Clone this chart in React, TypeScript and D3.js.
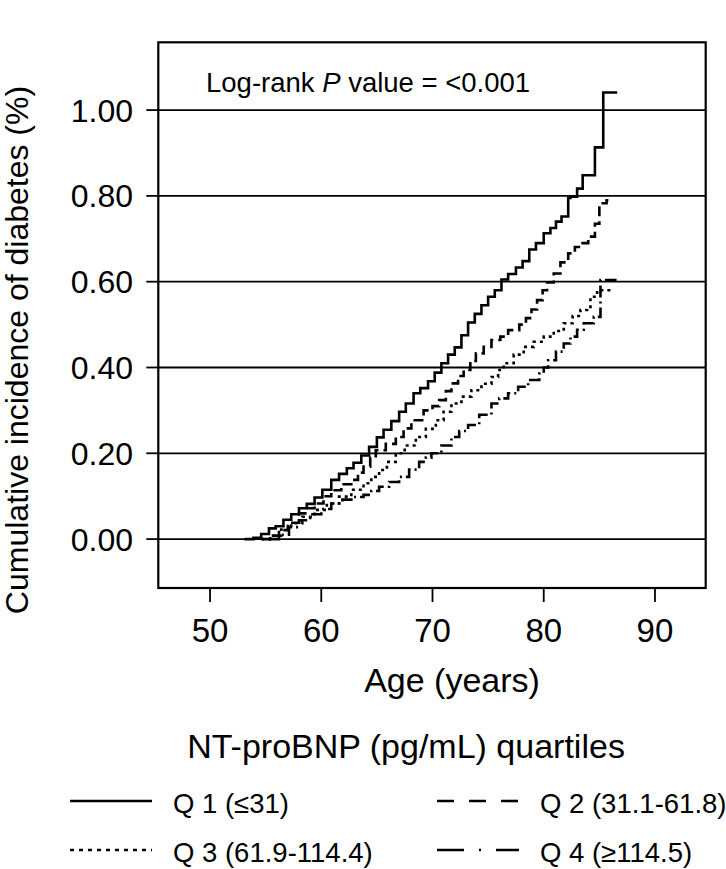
import React from "react";
import * as d3 from "d3";

const yTicks = [0, 0.2, 0.4, 0.6, 0.8, 1.0];
const xTicks = [50, 60, 70, 80, 90];

const q1Age = [53.1, 53.9, 54.6, 55.3, 55.9, 56.6, 57.3, 58.0, 58.7, 59.4, 60.1, 60.9, 61.6, 62.3, 62.9, 63.6, 64.3, 65.0, 65.6, 66.3, 67.0, 67.6, 68.3, 68.9, 69.6, 70.2, 70.8, 71.4, 72.0, 72.6, 73.2, 73.8, 74.4, 75.0, 75.6, 76.2, 76.8, 77.5, 78.1, 78.7, 79.3, 80.0, 80.6, 81.1, 81.6, 82.2, 82.4, 83.0, 83.5, 84.6, 85.35, 86.6];
const q1Val = [0, 0.003, 0.012, 0.025, 0.03, 0.045, 0.058, 0.072, 0.082, 0.097, 0.115, 0.138, 0.152, 0.165, 0.178, 0.195, 0.215, 0.237, 0.255, 0.275, 0.297, 0.316, 0.34, 0.352, 0.368, 0.388, 0.41, 0.43, 0.447, 0.475, 0.505, 0.525, 0.545, 0.565, 0.58, 0.605, 0.618, 0.633, 0.648, 0.675, 0.69, 0.713, 0.725, 0.74, 0.752, 0.795, 0.798, 0.817, 0.848, 0.913, 1.041, 1.041];

const q2Age = [54.7, 55.4, 56.2, 57.0, 58.0, 58.7, 59.4, 60.2, 60.9, 61.8, 62.7, 63.3, 63.8, 64.4, 64.9, 65.8, 66.7, 67.4, 68.1, 69.2, 70.0, 70.6, 71.2, 71.7, 72.3, 72.8, 73.4, 73.9, 74.6, 75.3, 76.1, 76.8, 77.8, 78.4, 78.9, 79.4, 79.9, 80.3, 80.9, 81.5, 82.2, 82.8, 83.3, 84.0, 84.6, 85.0, 85.65, 86.2];
const q2Val = [0, 0.008, 0.021, 0.038, 0.06, 0.072, 0.083, 0.1, 0.114, 0.128, 0.138, 0.155, 0.169, 0.19, 0.207, 0.222, 0.238, 0.258, 0.277, 0.3, 0.31, 0.324, 0.345, 0.363, 0.38, 0.394, 0.415, 0.433, 0.448, 0.464, 0.472, 0.487, 0.5, 0.515, 0.535, 0.557, 0.58, 0.598, 0.619, 0.645, 0.666, 0.681, 0.69, 0.705, 0.735, 0.783, 0.79, 0.79];

const q3Age = [54.6, 55.5, 56.4, 57.3, 58.3, 59.4, 60.5, 61.6, 62.7, 63.8, 64.5, 65.2, 65.9, 66.7, 67.5, 68.5, 69.4, 70.3, 71.0, 71.7, 72.6, 73.5, 74.4, 75.3, 75.9, 76.4, 77.3, 78.2, 79.1, 80.0, 80.9, 81.8, 82.6, 83.3, 83.9, 84.2, 84.8, 86.0];
const q3Val = [0, 0.008, 0.022, 0.037, 0.052, 0.068, 0.083, 0.099, 0.115, 0.13, 0.145, 0.161, 0.18, 0.2, 0.218, 0.238, 0.257, 0.277, 0.297, 0.316, 0.332, 0.347, 0.362, 0.378, 0.394, 0.41, 0.43, 0.448, 0.46, 0.472, 0.485, 0.503, 0.52, 0.534, 0.541, 0.565, 0.58, 0.58];

const q4Age = [55.4, 56.2, 57.1, 58.0, 59.0, 60.0, 60.9, 61.9, 62.9, 63.8, 64.5, 65.2, 66.1, 67.0, 67.9, 68.8, 69.4, 69.9, 70.8, 71.7, 72.4, 73.2, 74.2, 75.3, 76.0, 76.8, 77.7, 78.6, 79.6, 80.0, 80.4, 81.1, 81.8, 82.4, 83.0, 83.6, 84.5, 85.1, 86.55];
const q4Val = [0, 0.01, 0.028, 0.044, 0.058, 0.07, 0.083, 0.092, 0.098, 0.103, 0.112, 0.122, 0.133, 0.145, 0.162, 0.18, 0.19, 0.2, 0.218, 0.238, 0.252, 0.266, 0.29, 0.316, 0.328, 0.34, 0.355, 0.371, 0.386, 0.4, 0.417, 0.437, 0.456, 0.472, 0.488, 0.503, 0.518, 0.604, 0.604];

const seriesLabels = ["Q 1 (\u226431)", "Q 2 (31.1-61.8)", "Q 3 (61.9-114.4)", "Q 4 (\u2265114.5)"];
const seriesDash = ["none", "10,5", "3,4", "12,4,2,4"];
const legendDash = ["none", "17,15", "4,5", "27,15,2,15,24"];

const FONT = "'Liberation Sans', Arial, Helvetica, sans-serif";

export default function App() {
  const left = 158.3, right = 705.7, top = 42.3, bottom = 588;
  const x = d3.scaleLinear().domain([45.35, 94.56]).range([left, right]);
  const y = d3.scaleLinear().domain([-0.114, 1.158]).range([bottom, top]);
  const line = d3
    .line<[number, number]>()
    .x((d) => x(d[0]))
    .y((d) => y(d[1]))
    .curve(d3.curveStepAfter);
  const series = [
    [q1Age, q1Val],
    [q2Age, q2Val],
    [q3Age, q3Val],
    [q4Age, q4Val],
  ].map(([a, v]) => a.map((age, i) => [age, v[i]] as [number, number]));

  const legendPos = [
    { lx: 70, y: 801, tx: 173 },
    { lx: 437, y: 801, tx: 540 },
    { lx: 70, y: 850, tx: 173 },
    { lx: 437, y: 850, tx: 540 },
  ];

  return (
    <svg
      width={726}
      height={869}
      style={{ position: "absolute", left: 0, top: 0, display: "block", background: "#fff" }}
      fontFamily={FONT}
    >
      <rect x={0} y={0} width={726} height={869} fill="#fff" />
      {yTicks.map((t) => (
        <line key={"g" + t} x1={left} x2={right} y1={y(t)} y2={y(t)} stroke="#000" strokeWidth={1.8} />
      ))}
      {yTicks.map((t) => (
        <g key={"yt" + t}>
          <line x1={left - 12} x2={left} y1={y(t)} y2={y(t)} stroke="#000" strokeWidth={1.8} />
          <text x={133} y={y(t)} dy="0.36em" textAnchor="end" fontSize={32} fill="#000">
            {t.toFixed(2)}
          </text>
        </g>
      ))}
      {xTicks.map((t) => (
        <g key={"xt" + t}>
          <line x1={x(t)} x2={x(t)} y1={bottom} y2={bottom + 14} stroke="#000" strokeWidth={1.8} />
          <text x={x(t)} y={642} textAnchor="middle" fontSize={33} fill="#000">
            {t}
          </text>
        </g>
      ))}
      {series.map((s, i) => (
        <path
          key={"s" + i}
          d={line(s) || ""}
          fill="none"
          stroke="#000"
          strokeWidth={2.6}
          strokeDasharray={seriesDash[i]}
        />
      ))}
      <rect x={left} y={top} width={right - left} height={bottom - top} fill="none" stroke="#000" strokeWidth={2.2} />
      <text x={206} y={92} fontSize={27.5} fill="#000">
        Log-rank <tspan fontStyle="italic">P</tspan> value = &lt;0.001
      </text>
      <text x={452} y={692} textAnchor="middle" fontSize={34} fill="#000">
        Age (years)
      </text>
      <text transform={`translate(28,350) rotate(-90)`} textAnchor="middle" fontSize={32} fill="#000">
        Cumulative incidence of diabetes (%)
      </text>
      <text x={406} y={758} textAnchor="middle" fontSize={34} fill="#000">
        NT-proBNP (pg/mL) quartiles
      </text>
      {legendPos.map((p, i) => (
        <g key={"l" + i}>
          <line
            x1={p.lx}
            x2={p.lx + 82}
            y1={p.y}
            y2={p.y}
            stroke="#000"
            strokeWidth={2.6}
            strokeDasharray={legendDash[i]}
          />
          <text x={p.tx} y={p.y + 12} fontSize={27.5} fill="#000">
            {seriesLabels[i]}
          </text>
        </g>
      ))}
    </svg>
  );
}
